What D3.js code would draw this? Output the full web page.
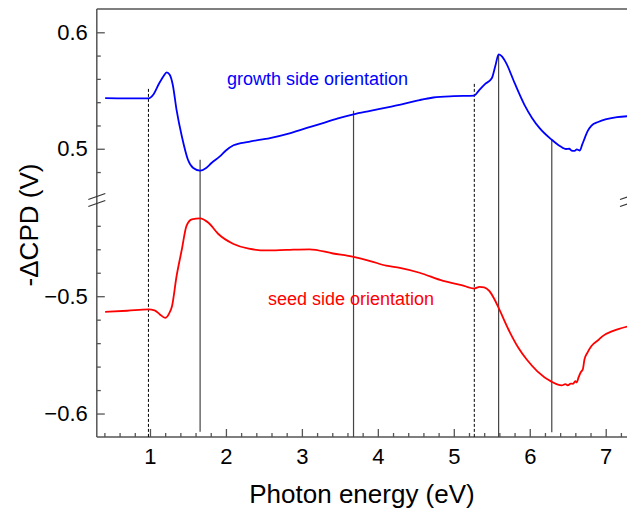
<!DOCTYPE html>
<html>
<head>
<meta charset="utf-8">
<script src="https://cdn.jsdelivr.net/npm/d3@7"></script>
<style>
    body { margin: 0; overflow: hidden; background: #fff; }
    text { font-family: "Liberation Sans", Arial, sans-serif; }
</style>
</head>
<body>
<div id="chart"></div>
<script>
// Photon energies (eV) and -dCPD (V)
const growthEnergy = [0.41, 0.7, 0.98, 1.05, 1.12, 1.18, 1.22, 1.26, 1.30, 1.35, 1.42, 1.50, 1.57, 1.66, 1.74, 1.81, 1.92, 2.0, 2.1, 2.3, 2.58, 2.85, 3.1, 3.3, 3.5, 3.68, 3.9, 4.16, 4.34, 4.55, 4.73, 5.0, 5.27, 5.33, 5.41, 5.50, 5.55, 5.59, 5.63, 5.69, 5.8, 5.93, 6.03, 6.13, 6.29, 6.38, 6.44, 6.48, 6.52, 6.55, 6.59, 6.62, 6.66, 6.69, 6.72, 6.76, 6.81, 6.9, 7.01, 7.15, 7.3];
const growthCPD = [0.5434, 0.5432, 0.5432, 0.547, 0.556, 0.5625, 0.5656, 0.5635, 0.555, 0.5334, 0.5105, 0.4906, 0.4835, 0.4812, 0.4835, 0.4878, 0.4934, 0.4985, 0.503, 0.506, 0.5092, 0.5135, 0.5185, 0.5225, 0.5265, 0.5295, 0.5325, 0.536, 0.5385, 0.5418, 0.544, 0.5452, 0.5457, 0.550, 0.5555, 0.5605, 0.572, 0.581, 0.5795, 0.5735, 0.5565, 0.5377, 0.5265, 0.5177, 0.5077, 0.503, 0.5006, 0.4998, 0.5, 0.4985, 0.4982, 0.4995, 0.4985, 0.5035, 0.5085, 0.515, 0.5197, 0.523, 0.5254, 0.5272, 0.528];

const seedEnergy = [0.41, 0.7, 0.98, 1.06, 1.13, 1.20, 1.25, 1.29, 1.35, 1.42, 1.48, 1.55, 1.66, 1.77, 1.9, 2.1, 2.3, 2.54, 2.8, 3.1, 3.41, 3.68, 3.9, 4.11, 4.29, 4.55, 4.86, 5.1, 5.27, 5.34, 5.40, 5.47, 5.53, 5.59, 5.74, 5.85, 5.96, 6.1, 6.29, 6.42, 6.47, 6.50, 6.54, 6.57, 6.60, 6.62, 6.64, 6.67, 6.70, 6.72, 6.76, 6.81, 6.9, 6.96, 7.1, 7.3];
const seedCPD = [-0.5133, -0.5124, -0.5113, -0.512, -0.5155, -0.5184, -0.515, -0.5085, -0.483, -0.46, -0.4403, -0.4346, -0.4336, -0.4374, -0.447, -0.4555, -0.4595, -0.461, -0.4605, -0.46, -0.4636, -0.4665, -0.47, -0.474, -0.4758, -0.48, -0.487, -0.4905, -0.4934, -0.492, -0.4925, -0.4957, -0.502, -0.51, -0.531, -0.544, -0.554, -0.564, -0.573, -0.576, -0.575, -0.576, -0.5745, -0.5747, -0.5725, -0.5735, -0.5696, -0.565, -0.562, -0.554, -0.548, -0.5426, -0.5375, -0.534, -0.5295, -0.5256];

// Marker lines: energy, top value, bottom value, dashed or not
const markerEnergy = [0.98, 1.66, 3.68, 5.27, 5.59, 6.29];
const markerTop = [0.5514, 0.4906, 0.5326, 0.5557, 0.5811, 0.5077];
const markerBottom = [-0.62, -0.6155, -0.62, -0.62, -0.62, -0.616];
const markerDashed = [true, false, false, true, false, false];

const xTicks = [1, 2, 3, 4, 5, 6, 7];
const yTicksUpper = [0.5, 0.6];
const yTicksLower = [-0.6, -0.5];

const svgWidth = 640;
const svgHeight = 508;
const axisColor = "#555";

const svg = d3.select("#chart")
              .append("svg")
              .attr("width", svgWidth)
              .attr("height", svgHeight);

// Scales: one x, two y pieces for the broken axis
const x = d3.scaleLinear().domain([0.3, 7.3]).range([96.8, 628.5]);
const yUp = d3.scaleLinear().domain([0.456, 0.62]).range([200, 9]);
const yLow = d3.scaleLinear().domain([-0.62, -0.418]).range([437, 200]);
const y = v => v >= 0 ? yUp(v) : yLow(v);

const plotLeft = x.range()[0], plotRight = x.range()[1];
const plotTop = yUp.range()[1], plotBottom = yLow.range()[0];

// Minor ticks
const xMinor = d3.range(0.4, 7.3, 0.2).filter(v => Math.abs(v - Math.round(v)) > 0.01);
const yMinorUp = [0.48, 0.52, 0.54, 0.56, 0.58];
const yMinorLow = [-0.44, -0.46, -0.48, -0.52, -0.54, -0.56, -0.58];

function styleAxis(g) {
    g.select(".domain").remove();
    g.selectAll("line").attr("stroke", axisColor).attr("stroke-width", 1.3);
    g.selectAll("text").attr("fill", "#000").style("font-size", "22px");
}

// X axis
svg.append("g").attr("transform", `translate(0, ${plotBottom})`)
   .call(d3.axisBottom(x).tickValues(xTicks).tickSize(-8).tickPadding(11).tickFormat(d3.format("d")))
   .call(styleAxis);
svg.append("g").attr("transform", `translate(0, ${plotBottom})`)
   .call(d3.axisBottom(x).tickValues(xMinor).tickSize(-4).tickFormat(""))
   .call(styleAxis);

// Y axis (upper and lower parts)
[[yUp, yTicksUpper, yMinorUp], [yLow, yTicksLower, yMinorLow]].forEach(([s, major, minor]) => {
    svg.append("g").attr("transform", `translate(${plotLeft}, 0)`)
       .call(d3.axisLeft(s).tickValues(major).tickSize(-8).tickPadding(9).tickFormat(d3.format(".1f")))
       .call(styleAxis);
    svg.append("g").attr("transform", `translate(${plotLeft}, 0)`)
       .call(d3.axisLeft(s).tickValues(minor).tickSize(-4).tickFormat(""))
       .call(styleAxis);
});

// Frame lines
const frame = svg.append("g").attr("stroke", axisColor).attr("stroke-width", 1.5);
frame.append("line").attr("x1", plotLeft).attr("x2", plotLeft).attr("y1", plotTop).attr("y2", plotBottom);
frame.append("line").attr("x1", plotLeft).attr("x2", svgWidth).attr("y1", plotBottom).attr("y2", plotBottom);
frame.append("line").attr("x1", plotLeft).attr("x2", svgWidth).attr("y1", plotTop).attr("y2", plotTop);

// Break marks "//" on both sides
const breakY = yUp.range()[0];
[plotLeft, plotRight].forEach(bx => {
    [-3.5, 3.5].forEach(off => {
        svg.append("line")
           .attr("x1", bx - 8.5).attr("y1", breakY + off + 3)
           .attr("x2", bx + 8.5).attr("y2", breakY + off - 3)
           .attr("stroke", "#333").attr("stroke-width", 1.2);
    });
});

// Marker lines
svg.append("g").selectAll("line")
   .data(markerEnergy)
   .enter()
   .append("line")
   .attr("x1", d => x(d)).attr("x2", d => x(d))
   .attr("y1", (d, i) => y(markerTop[i]))
   .attr("y2", (d, i) => y(markerBottom[i]))
   .attr("stroke", (d, i) => markerDashed[i] ? "#000" : "#444")
   .attr("stroke-width", (d, i) => markerDashed[i] ? 1 : 1.2)
   .attr("stroke-dasharray", (d, i) => markerDashed[i] ? "3,2" : null);

// Curves
const line = d3.line().x(d => x(d[0])).y(d => y(d[1])).curve(d3.curveMonotoneX);

svg.append("path")
   .datum(d3.zip(growthEnergy, growthCPD))
   .attr("d", line)
   .attr("fill", "none")
   .attr("stroke", "#0000ff")
   .attr("stroke-width", 1.8);

svg.append("path")
   .datum(d3.zip(seedEnergy, seedCPD))
   .attr("d", line)
   .attr("fill", "none")
   .attr("stroke", "#ff0000")
   .attr("stroke-width", 1.8);

// Series labels
svg.append("text")
   .text("growth side orientation")
   .attr("x", 317.5).attr("y", 85)
   .attr("text-anchor", "middle")
   .attr("fill", "#0000ff")
   .style("font-size", "18px");

svg.append("text")
   .text("seed side orientation")
   .attr("x", 351).attr("y", 305)
   .attr("text-anchor", "middle")
   .attr("fill", "#ff0000")
   .style("font-size", "18px");

// Axis titles
svg.append("text")
   .text("Photon energy (eV)")
   .attr("x", 362).attr("y", 503)
   .attr("text-anchor", "middle")
   .style("font-size", "26px");

svg.append("text")
   .text("-\u0394CPD (V)")
   .attr("transform", "translate(38, 225) rotate(-90)")
   .attr("text-anchor", "middle")
   .style("font-size", "26px");
</script>
</body>
</html>
